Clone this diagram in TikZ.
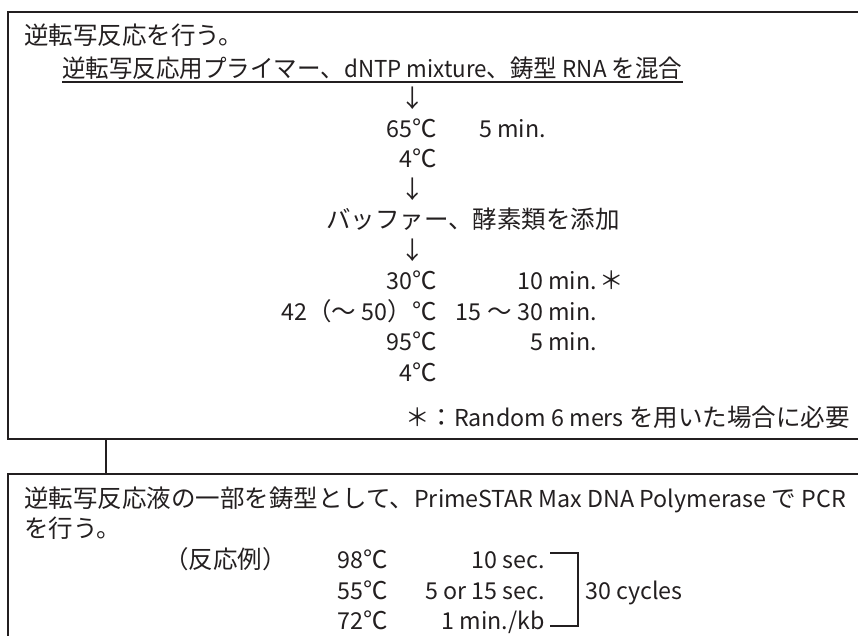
\documentclass[tikz,border=0pt]{standalone}
\usepackage{fontspec}
\setmainfont{Noto Sans CJK JP}
\newfontfamily\latf{Noto Sans CJK JP}[Scale=0.95]
\newcommand{\lat}[1]{{\latf #1}}
\definecolor{ink}{HTML}{231F20}
\begin{document}
\begin{tikzpicture}[x=1pt,y=-1pt,
  txt/.style={inner sep=0pt, text=ink, font=\fontsize{24.5pt}{29pt}\selectfont},
  boxline/.style={draw=ink, line width=2pt},
  thin/.style={draw=ink, line width=1.5pt}]
\useasboundingbox (0,0) rectangle (858,635);
\clip (0,0) rectangle (858,635);
% boxes
\node[boxline, inner sep=0pt, minimum width=872pt, minimum height=427pt] (box1) at (444,225.5) {};
\node[boxline, inner sep=0pt, minimum width=872pt, minimum height=226pt] (box2) at (444,587) {};
\coordinate (jx) at (106,0);
\draw[boxline] (box1.south -| jx) -- (box2.north -| jx);
% top box text
\node[txt, anchor=base west] (t1) at (24,44) {逆転写反応を行う。};
\node[txt, anchor=base west, xscale=0.96, transform shape] (t2) at (62,77) {逆転写反応用プライマー、\lat{dNTP mixture}、鋳型 \lat{RNA} を混合};
\draw[thin, line width=1.2pt] ([yshift=-5]t2.base west) -- ([yshift=-5]t2.base east);
\node[txt, anchor=base] (a1) at (413,107) {↓};
\node[txt, anchor=base east] (r1) at (437,137) {\lat{65}℃};
\node[txt, anchor=base west] (m1) at (479,137) {\lat{5 min.}};
\node[txt, anchor=base east] (r2) at (437,167) {\lat{4}℃};
\node[txt, anchor=base] (a2) at (413,198) {↓};
\node[txt, anchor=base west] (buf) at (326,228) {バッファー、酵素類を添加};
\node[txt, anchor=base] (a3) at (413,259) {↓};
\node[txt, anchor=base east] (r3) at (437,289) {\lat{30}℃};
\node[txt, anchor=base east] (m3) at (597,289) {\lat{10 min.}};
\node[txt, anchor=base west] (s3) at ([xshift=2]m3.base east) {＊};
\node[txt, anchor=base east] (r4) at (437,320) {\lat{42}（～ \lat{50}）℃};
\node[txt, anchor=base east] (m4) at (597,320) {\lat{15} ～ \lat{30 min.}};
\node[txt, anchor=base east] (r5) at (437,350) {\lat{95}℃};
\node[txt, anchor=base east] (m5) at (597,350) {\lat{5 min.}};
\node[txt, anchor=base east] (r6) at (437,381) {\lat{4}℃};
\node[txt, anchor=base east] (foot) at (850,426) {＊：\lat{Random 6 mers} を用いた場合に必要};
% bottom box text
\node[txt, anchor=base west] (b1) at (24,507) {逆転写反応液の一部を鋳型として、\lat{PrimeSTAR Max DNA Polymerase} で \lat{PCR}};
\node[txt, anchor=base west] (b2) at (24,537) {を行う。};
\node[txt, anchor=base west] (ex) at (164,568) {（反応例）};
\node[txt, anchor=base east] (p1) at (388,568) {\lat{98}℃};
\node[txt, anchor=base east] (q1) at (545,568) {\lat{10 sec.}};
\node[txt, anchor=base east] (p2) at (388,599) {\lat{55}℃};
\node[txt, anchor=base east] (q2) at (545,599) {\lat{5 or 15 sec.}};
\node[txt, anchor=base east] (p3) at (388,629) {\lat{72}℃};
\node[txt, anchor=base east] (q3) at (545,629) {\lat{1 min./kb}};
\coordinate (bt) at (550,553);
\coordinate (bb) at (550,626);
\draw[thin] (bt) -- ++(28,0) |- (bb);
\node[txt, anchor=base west] (cyc) at (585,599) {\lat{30 cycles}};
\end{tikzpicture}
\end{document}
